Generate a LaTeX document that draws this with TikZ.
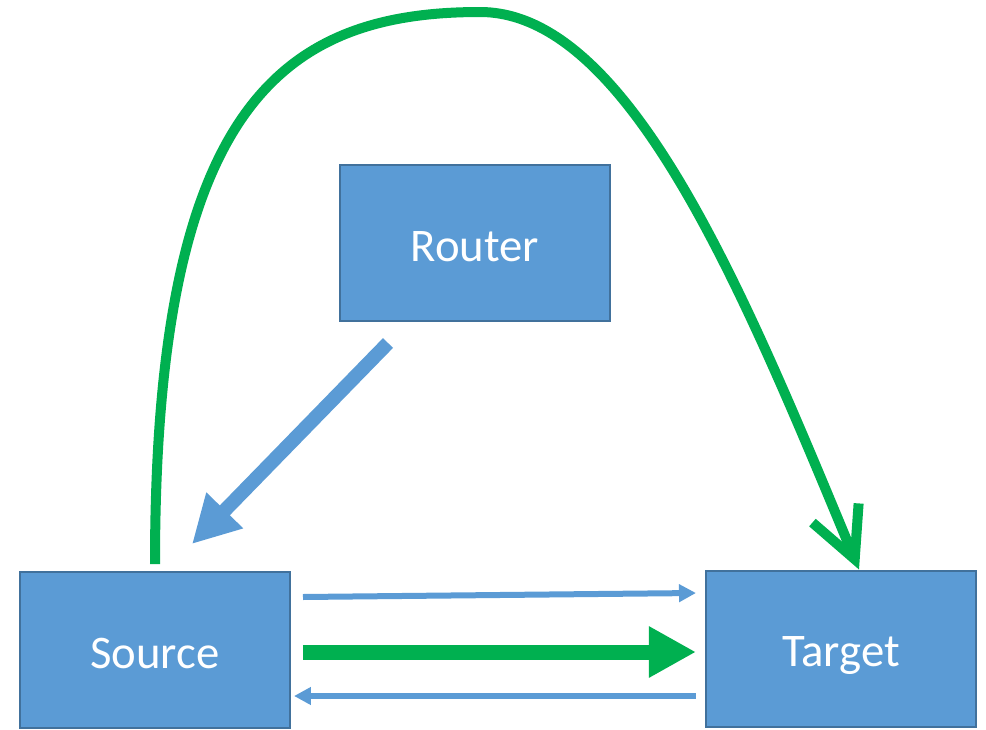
\documentclass[tikz,border=0pt]{standalone}
\usepackage{fontspec}
\setmainfont{Carlito}
\usetikzlibrary{arrows.meta,calc}

\definecolor{boxblue}{HTML}{5B9BD5}
\definecolor{boxedge}{HTML}{41719C}
\definecolor{flowgreen}{HTML}{00B050}

\begin{document}
\begin{tikzpicture}[
	box/.style={draw=boxedge, line width=0.02cm, fill=boxblue,
		minimum width=2.7cm, minimum height=1.56cm,
		text height=12.4pt, text depth=2pt,
		text=white, font=\fontsize{13.3}{16}\selectfont},
	thinflow/.style={draw=boxblue, line width=0.06cm,
		-{Triangle[length=0.17cm,width=0.17cm]}},
]
\useasboundingbox (0,0) rectangle (9.86,7.29);

%Router
\node [box]  (router)at (4.75,4.86) {Router};

%Source
\node [box]  (source)at (1.55,0.79) {Source};

%Target
\node [box]  (target)at (8.41,0.805) {Target};

%Router to Source
\draw[boxblue, line width=0.14cm, -{Triangle[length=0.47cm,width=0.48cm]}]
	($(router.south)+(-0.87,-0.21)$) -- ($(source.north)+(0.37,0.27)$);

%Source to Target
\draw[thinflow] ($(source.east)+(0.12,0.53)$) -- ($(target.west)+(-0.09,0.555)$);
\draw[flowgreen, line width=0.15cm, -{Triangle[length=0.47cm,width=0.48cm]}]
	($(source.east)+(0.12,-0.02)$) -- ($(target.west)+(-0.09,-0.035)$);
\draw[thinflow] ($(target.west)+(-0.09,-0.475)$) -- ($(source.east)+(0.03,-0.46)$);

%Bypass over the Router
\coordinate (top) at (4.80,7.17);
\draw[flowgreen, line width=0.1cm, -{Straight Barb[length=0.5cm,width=0.5cm]}]
	($(source.north)+(0,0.07)$) .. controls (1.55,6.2) and (2.8,7.17) .. (top)
	.. controls (6.3,7.17) and (7.45,4.34) .. ($(target.north)+(0.18,0)$);

\end{tikzpicture}
\end{document}
